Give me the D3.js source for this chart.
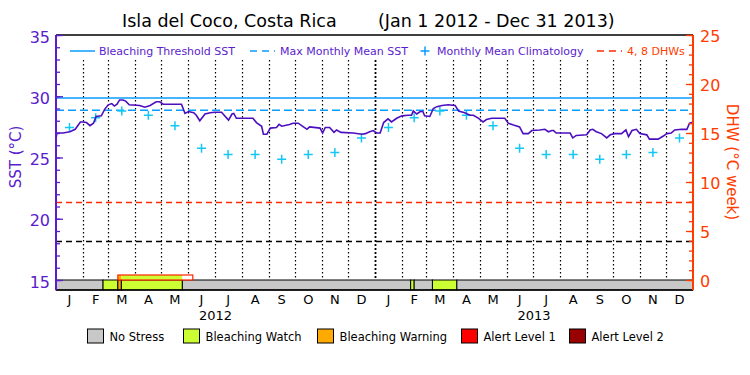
<!DOCTYPE html>
<html>
<head>
<meta charset="utf-8">
<script src="https://cdn.jsdelivr.net/npm/d3@7"></script>
<style>
  body { margin: 0; background: #fff; }
  text { font-family: "DejaVu Sans", sans-serif; }
</style>
</head>
<body>
<svg id="chart"></svg>
<script>
var width = 750, height = 375;
var plot = {left: 56, right: 693, top: 35, bottom: 290, barTop: 280};

var purple = "#5a1ccc", sstColor = "#4c0fbf", dhwColor = "#ff3c00";
var cyan = "#0a9cff", climColor = "#14c8f5";

// daily SST (days since 2012-01-01)
var sstDays = [0,1,8,16,22,28,31,35,39,43,46,52,56,60,64,67,70,73,77,80,84,96,102,108,115,119,123,144,148,152,158,161,165,171,177,182,
  190,193,198,202,204,207,226,230,236,238,242,246,253,256,259,268,272,278,284,288,291,303,306,309,314,319,322,327,341,351,355,360,364,368,372,
  376,381,385,391,397,404,408,410,414,418,421,423,429,433,437,443,450,458,462,469,475,479,485,490,494,500,515,519,525,532,536,542,546,555,
  561,565,569,571,574,590,593,597,609,613,616,620,626,632,636,641,649,654,657,661,666,670,678,681,691,697,701,706,710,718,724,727,730];
var sstVals = [26.5,27.0,27.0,27.1,27.3,27.9,27.9,27.85,27.6,27.8,28.35,28.4,28.95,29.3,29.4,29.2,29.35,29.7,29.7,29.6,29.3,29.25,29.1,29.25,29.55,29.55,29.35,29.35,28.6,28.75,28.65,28.45,28.0,28.55,28.65,28.7,
  28.7,28.45,28.05,28.55,28.6,28.2,28.2,27.85,27.55,26.9,26.9,27.4,27.45,27.7,27.55,27.7,27.8,27.8,27.5,27.3,27.5,27.4,27.0,27.45,27.45,27.05,27.25,27.05,27.0,26.9,26.95,27.1,27.2,27.0,27.0,
  27.85,28.15,27.9,28.2,28.4,28.45,28.45,28.8,28.55,28.75,28.75,28.4,28.35,29.0,29.15,29.25,29.3,29.25,28.8,28.65,28.45,28.45,28.2,27.9,28.1,28.2,28.2,27.8,27.65,27.5,26.95,26.95,27.2,27.25,
  27.3,27.1,27.2,27.2,27.0,27.0,26.6,26.8,26.85,27.25,27.3,27.1,26.95,26.6,26.85,26.95,26.95,27.25,26.7,27.2,27.3,26.95,26.85,26.5,26.5,26.75,26.95,27.0,27.25,27.3,27.3,27.8,27.85];

// monthly mean climatology (Jan..Dec)
var climVals = [27.45, 28.25, 28.8, 28.45, 27.6, 25.75, 25.25, 25.25, 24.85, 25.25, 25.4, 26.6];
var years = [2012, 2013];
var monthLetters = ["J","F","M","A","M","J","J","A","S","O","N","D"];

var threshold = 29.85, mmm = 28.85;
var dhwLevels = [4, 8];

// stress level bar
var stressNames = ["No Stress", "Bleaching Watch", "Bleaching Warning", "Alert Level 1", "Alert Level 2"];
var stressColors = ["#c8c8c8", "#ccff33", "#ffaa00", "#ff0000", "#990000"];
var stressStart = [0, 54, 71, 75, 145, 407, 411, 432, 460];
var stressEnd   = [54, 71, 75, 145, 407, 411, 432, 460, 731];
var stressLevel = [0, 1, 2, 1, 0, 1, 0, 1, 0];
// outlined band above the bar
var outlookStart = [71, 75, 145];
var outlookEnd   = [75, 145, 157];
var outlookLevel = [2, 1, -1];

var t0 = new Date(2012, 0, 1), t1 = new Date(2014, 0, 1);
function day(d) { return d3.timeDay.offset(t0, d); }

var x = d3.scaleTime().domain([t0, t1]).range([plot.left, plot.right]);
var ySst = d3.scaleLinear().domain([15, 35]).range([plot.barTop, plot.top]);
var yDhw = d3.scaleLinear().domain([0, 25]).range([plot.barTop, plot.top]);

var svg = d3.select("#chart").attr("width", width).attr("height", height);

// title
svg.append("text").attr("x", 122).attr("y", 27).attr("font-size", 17.5).text("Isla del Coco, Costa Rica");
svg.append("text").attr("x", 378).attr("y", 27).attr("font-size", 17.5).text("(Jan 1 2012 - Dec 31 2013)");

// vertical month lines
var months = d3.timeMonth.range(d3.timeMonth.offset(t0, 1), t1);
svg.append("g").selectAll("line")
    .data(months)
  .enter().append("line")
    .attr("x1", function(d) { return Math.round(x(d)) + 0.5; })
    .attr("x2", function(d) { return Math.round(x(d)) + 0.5; })
    .attr("y1", 60).attr("y2", plot.barTop)
    .attr("stroke", "#000")
    .attr("stroke-width", function(d) { return d.getMonth() == 0 ? 1.8 : 1.2; })
    .attr("stroke-dasharray", function(d) { return d.getMonth() == 0 ? "2,2" : "1.5,2.5"; });

// reference lines
svg.append("line").attr("x1", plot.left).attr("x2", plot.right)
    .attr("y1", ySst(threshold)).attr("y2", ySst(threshold))
    .attr("stroke", cyan).attr("stroke-width", 1.5);
svg.append("line").attr("x1", plot.left).attr("x2", plot.right)
    .attr("y1", ySst(mmm)).attr("y2", ySst(mmm))
    .attr("stroke", cyan).attr("stroke-width", 1.5).attr("stroke-dasharray", "8,4");
svg.selectAll(".dhw")
    .data(dhwLevels)
  .enter().append("line")
    .attr("x1", plot.left).attr("x2", plot.right)
    .attr("y1", function(d) { return Math.round(yDhw(d)) + 0.5; })
    .attr("y2", function(d) { return Math.round(yDhw(d)) + 0.5; })
    .attr("stroke", function(d) { return d == 8 ? "#ff2a00" : "#000"; })
    .attr("stroke-width", 1.3)
    .attr("stroke-dasharray", "6,4");

// climatology crosses
var clim = [];
years.forEach(function(yr) {
  climVals.forEach(function(v, m) {
    var a = new Date(yr, m, 1), b = new Date(yr, m + 1, 1);
    clim.push({date: new Date((a.getTime() + b.getTime()) / 2), value: v});
  });
});
svg.append("g").selectAll("path")
    .data(clim)
  .enter().append("path")
    .attr("transform", function(d) { return "translate(" + x(d.date) + "," + ySst(d.value) + ")"; })
    .attr("d", "M-4.5,0H4.5M0,-4.5V4.5")
    .attr("stroke", climColor).attr("stroke-width", 1.5);

// SST line
var sst = sstDays.map(function(d, i) { return [day(d), sstVals[i]]; });
var valueline = d3.line()
    .x(function(d) { return x(d[0]); })
    .y(function(d) { return ySst(d[1]); });
svg.append("path").datum(sst)
    .attr("d", valueline)
    .attr("fill", "none").attr("stroke", sstColor).attr("stroke-width", 1.6);

// stress bar
svg.append("g").selectAll("rect")
    .data(stressStart)
  .enter().append("rect")
    .attr("x", function(d) { return x(day(d)); })
    .attr("width", function(d, i) { return x(day(stressEnd[i])) - x(day(d)); })
    .attr("y", plot.barTop).attr("height", plot.bottom - plot.barTop)
    .attr("fill", function(d, i) { return stressColors[stressLevel[i]]; })
    .attr("stroke", "#000").attr("stroke-width", 1);

svg.append("g").selectAll("rect")
    .data(outlookStart)
  .enter().append("rect")
    .attr("x", function(d) { return x(day(d)); })
    .attr("width", function(d, i) { return x(day(outlookEnd[i])) - x(day(d)); })
    .attr("y", plot.barTop - 5).attr("height", 5)
    .attr("fill", function(d, i) { return outlookLevel[i] < 0 ? "#fff" : stressColors[outlookLevel[i]]; });
svg.append("rect")
    .attr("x", x(day(outlookStart[0]))).attr("y", plot.barTop - 5)
    .attr("width", x(day(outlookEnd[outlookEnd.length - 1])) - x(day(outlookStart[0])))
    .attr("height", 5)
    .attr("fill", "none").attr("stroke", "#ff2200").attr("stroke-width", 1.2);

// frame
svg.append("line").attr("x1", plot.left).attr("x2", plot.right).attr("y1", plot.top).attr("y2", plot.top)
    .attr("stroke", "#000").attr("stroke-width", 1.5);
svg.append("line").attr("x1", plot.left).attr("x2", plot.right).attr("y1", plot.bottom).attr("y2", plot.bottom)
    .attr("stroke", "#000").attr("stroke-width", 1.5);

// left axis
var leftAxis = svg.append("g").attr("transform", "translate(" + plot.left + ",0)").attr("color", purple);
leftAxis.call(d3.axisLeft(ySst).ticks(20).tickSize(-4).tickFormat(""));
leftAxis.append("g").call(d3.axisLeft(ySst).tickValues([15, 20, 25, 30, 35]).tickSize(-7).tickPadding(6));
leftAxis.selectAll(".domain").remove();
leftAxis.selectAll("text").attr("font-size", 16).attr("font-family", "DejaVu Sans").attr("dy", "0.45em");
leftAxis.selectAll("line").attr("stroke-width", 1.3);
svg.append("line").attr("x1", plot.left).attr("x2", plot.left).attr("y1", plot.top).attr("y2", plot.bottom)
    .attr("stroke", purple).attr("stroke-width", 2);

// right axis
var rightAxis = svg.append("g").attr("transform", "translate(" + plot.right + ",0)").attr("color", dhwColor);
rightAxis.call(d3.axisRight(yDhw).ticks(25).tickSize(-4).tickFormat(""));
rightAxis.append("g").call(d3.axisRight(yDhw).tickValues([0, 5, 10, 15, 20, 25]).tickSize(-7).tickPadding(7));
rightAxis.selectAll(".domain").remove();
rightAxis.selectAll("text").attr("font-size", 16).attr("font-family", "DejaVu Sans").attr("dy", "0.4em");
rightAxis.selectAll("line").attr("stroke-width", 1.3);
svg.append("line").attr("x1", plot.right).attr("x2", plot.right).attr("y1", plot.top).attr("y2", plot.bottom)
    .attr("stroke", dhwColor).attr("stroke-width", 2);

// axis titles
svg.append("text").attr("transform", "translate(21,157) rotate(-90)")
    .attr("text-anchor", "middle").attr("font-size", 15).attr("fill", purple).text("SST (°C)");
svg.append("text").attr("transform", "translate(727,162) rotate(90)")
    .attr("text-anchor", "middle").attr("font-size", 15).attr("fill", dhwColor).text("DHW (°C week)");

// month and year labels
var allMonths = d3.timeMonth.range(t0, t1);
svg.append("g").selectAll("text")
    .data(allMonths)
  .enter().append("text")
    .attr("x", function(d) { return (x(d) + x(d3.timeMonth.offset(d, 1))) / 2; })
    .attr("y", 304)
    .attr("text-anchor", "middle").attr("font-size", 13)
    .text(function(d) { return monthLetters[d.getMonth()]; });
svg.append("g").selectAll("text")
    .data(years)
  .enter().append("text")
    .attr("x", function(d) { return (x(new Date(d, 0, 1)) + x(new Date(d + 1, 0, 1))) / 2; })
    .attr("y", 320)
    .attr("text-anchor", "middle").attr("font-size", 13)
    .text(function(d) { return d; });

// top legend
var lg = svg.append("g").attr("font-size", 11);
lg.append("line").attr("x1", 70).attr("x2", 95).attr("y1", 51).attr("y2", 51).attr("stroke", cyan).attr("stroke-width", 1.5);
lg.append("text").attr("x", 99).attr("y", 55).attr("fill", purple).text("Bleaching Threshold SST");
lg.append("line").attr("x1", 250).attr("x2", 275).attr("y1", 51).attr("y2", 51).attr("stroke", cyan)
    .attr("stroke-width", 1.5).attr("stroke-dasharray", "7,5");
lg.append("text").attr("x", 280).attr("y", 55).attr("fill", purple).text("Max Monthly Mean SST");
lg.append("path").attr("transform", "translate(425,51)").attr("d", "M-4.5,0H4.5M0,-4.5V4.5")
    .attr("stroke", cyan).attr("stroke-width", 1.5);
lg.append("text").attr("x", 437).attr("y", 55).attr("fill", purple).text("Monthly Mean Climatology");
lg.append("line").attr("x1", 597).attr("x2", 622).attr("y1", 51).attr("y2", 51).attr("stroke", "#ff2a00")
    .attr("stroke-width", 1.5).attr("stroke-dasharray", "7,5");
lg.append("text").attr("x", 627).attr("y", 55).attr("fill", dhwColor).text("4, 8 DHWs");

// bottom legend
var boxX = [87.5, 183.5, 317.5, 461.5, 569.5];
var bl = svg.append("g").selectAll("g")
    .data(stressNames)
  .enter().append("g")
    .attr("transform", function(d, i) { return "translate(" + boxX[i] + ",329)"; });
bl.append("rect").attr("width", 16).attr("height", 14)
    .attr("fill", function(d, i) { return stressColors[i]; })
    .attr("stroke", "#000").attr("stroke-width", 1);
bl.append("text").attr("x", 22).attr("y", 12).attr("font-size", 11.5).text(function(d) { return d; });
</script>
</body>
</html>
